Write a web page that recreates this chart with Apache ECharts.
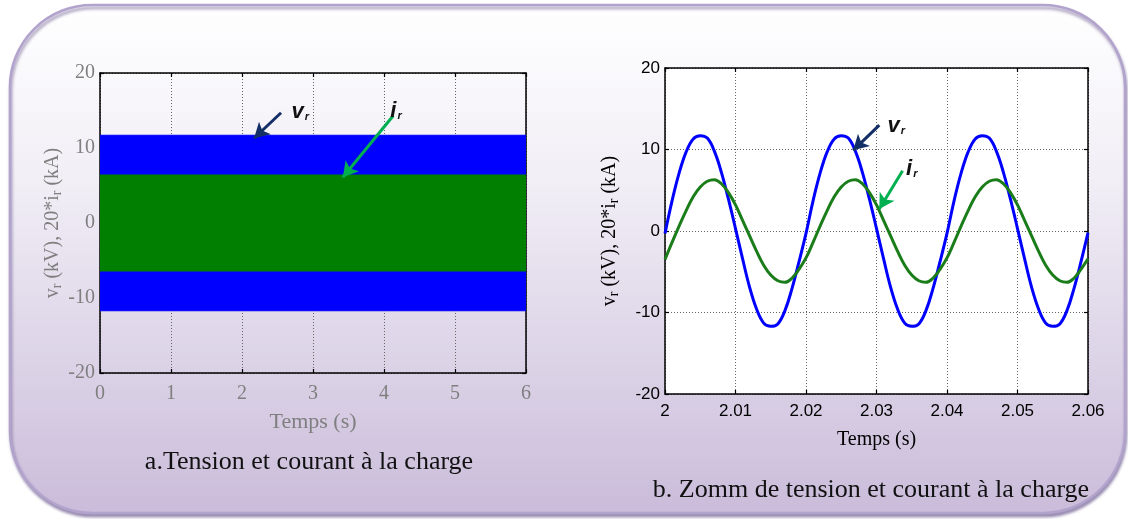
<!DOCTYPE html>
<html>
<head>
<meta charset="utf-8">
<script src="https://cdn.jsdelivr.net/npm/echarts@6/dist/echarts.min.js"></script>
<style>html,body{margin:0;padding:0;background:#fff;}#c{width:1128px;height:519px;}</style>
</head>
<body>
<div id="c"></div>
<script>
// ---- data ----
// a. full run: envelope of the dense 50 Hz waveforms over 0..6 s
var tA = [0, 6];
var vrUpperA = [11.7, 11.7];
var vrLowerA = [-11.7, -11.7];
var irUpperA = [6.4, 6.4];
var irLowerA = [-6.4, -6.4];
var xTicksA = [0, 1, 2, 3, 4, 5, 6];
var yTicks = [-20, -10, 0, 10, 20];

// b. zoom 2.00 .. 2.06 s, one sample per ms
var tB = [2.000,2.001,2.002,2.003,2.004,2.005,2.006,2.007,2.008,2.009,
          2.010,2.011,2.012,2.013,2.014,2.015,2.016,2.017,2.018,2.019,
          2.020,2.021,2.022,2.023,2.024,2.025,2.026,2.027,2.028,2.029,
          2.030,2.031,2.032,2.033,2.034,2.035,2.036,2.037,2.038,2.039,
          2.040,2.041,2.042,2.043,2.044,2.045,2.046,2.047,2.048,2.049,
          2.050,2.051,2.052,2.053,2.054,2.055,2.056,2.057,2.058,2.059,2.060];
var vrB = [-0.3,3.7,7.1,9.7,11.3,11.7,11.4,9.8,7.2,3.9,
           0.3,-3.4,-6.9,-9.6,-11.3,-11.7,-11.4,-9.8,-7.1,-3.8,
           -0.3,3.7,7.1,9.7,11.3,11.7,11.4,9.8,7.2,3.9,
           0.3,-3.4,-6.9,-9.6,-11.3,-11.7,-11.4,-9.8,-7.1,-3.8,
           -0.3,3.7,7.1,9.7,11.3,11.7,11.4,9.8,7.2,3.9,
           0.3,-3.4,-6.9,-9.6,-11.3,-11.7,-11.4,-9.8,-7.1,-3.8,-0.2];
var irB = [-3.5,-1.4,0.6,2.5,4.2,5.4,6.1,6.3,5.8,4.7,
           3.2,1.3,-0.6,-2.5,-4.2,-5.4,-6.1,-6.3,-5.8,-4.7,
           -3.3,-1.4,0.6,2.5,4.2,5.4,6.1,6.3,5.8,4.7,
           3.2,1.3,-0.6,-2.5,-4.2,-5.4,-6.1,-6.3,-5.8,-4.7,
           -3.3,-1.4,0.6,2.5,4.2,5.4,6.1,6.3,5.8,4.7,
           3.2,1.3,-0.6,-2.5,-4.2,-5.4,-6.1,-6.3,-5.8,-4.7,-3.4];
var xTicksB = ['2','2.01','2.02','2.03','2.04','2.05','2.06'];

// annotation anchors (data coordinates)
var annA = {vrText:[2.82,14.8], vrArrow:[[2.55,14.7],[2.17,11.3]], irText:[4.17,15.0], irArrow:[[4.13,14.3],[3.42,6.1]]};
var annB = {vrText:[2.0328,12.9], vrArrow:[[2.0304,13.0],[2.0267,9.9]], irText:[2.0350,7.6], irArrow:[[2.0337,7.4],[2.0304,2.7]]};

// ---- chart ----
function pairs(xs, ys){ return xs.map(function(x,i){ return [x, ys[i]]; }); }
var nameRich = function(size,color){
  return {
    n:{fontFamily:'Liberation Serif', fontSize:size, color:color},
    s:{fontFamily:'Liberation Serif', fontSize:Math.round(size*0.7), color:color, padding:[size*0.45,0,0,0]}
  };
};
var yName = '{n|v}{s|r}{n| (kV), 20*i}{s|r}{n| (kA)}';

function annLabel(letter){
  return {
    show:true, position:'inside',
    formatter:'{m|'+letter+'}{s|r}',
    rich:{
      m:{fontFamily:'Liberation Sans', fontStyle:'italic', fontWeight:'bold', fontSize:22, color:'#111'},
      s:{fontFamily:'Liberation Sans', fontStyle:'italic', fontWeight:'bold', fontSize:11, color:'#111', padding:[10,0,0,1]}
    }
  };
}
function arrowLine(a, color){
  return {
    silent:true, symbol:['none','arrow'], symbolSize:[13,15], label:{show:false},
    lineStyle:{color:color, width:3, type:'solid'},
    emphasis:{disabled:true},
    data:[[{coord:a[0]},{coord:a[1]}]], animation:false
  };
}
function textPoints(ann){
  return {
    silent:true, symbol:'circle', symbolSize:0,
    data:[
      {coord:ann.vrText, label:annLabel('v')},
      {coord:ann.irText, label:annLabel('i')}
    ], animation:false
  };
}

var axisLineStyle = {show:true, onZero:false, lineStyle:{color:'#000', width:1.5}};
var tickIn = {show:true, inside:true, length:4, lineStyle:{color:'#000', width:1.2}};
var dotted = {show:true, lineStyle:{color:'#666', type:[1,2], width:1}};

var option = {
  animation:false,
  graphic:[{
    type:'rect', z:-10, silent:true,
    shape:{x:10, y:5, width:1115, height:508, r:82},
    style:{
      fill:new echarts.graphic.LinearGradient(0,0,0,1,[
        {offset:0, color:'#ffffff'},{offset:0.35,color:'#f1eef6'},{offset:1, color:'#cabcda'}]),
      stroke:'#b2a3cd', lineWidth:2.5,
      shadowBlur:3, shadowOffsetX:1, shadowOffsetY:3, shadowColor:'rgba(90,70,130,0.55)'
    }
  },{
    type:'text', z:5, silent:true, x:309, y:462,
    style:{text:'a.Tension et courant à la charge', font:'26px "Liberation Serif"', fill:'#111', textAlign:'center', textVerticalAlign:'middle'}
  },{
    type:'text', z:5, silent:true, x:871, y:490,
    style:{text:'b. Zomm de tension et courant à la charge', font:'26px "Liberation Serif"', fill:'#111', textAlign:'center', textVerticalAlign:'middle'}
  }],
  grid:[
    {left:100, top:73, width:426, height:300, show:false},
    {left:665, top:68, width:423, height:326, show:true, backgroundColor:'#ffffff', borderWidth:0}
  ],
  xAxis:[
    {type:'value', gridIndex:0, min:0, max:6, interval:1, position:'bottom',
     axisLine:axisLineStyle, axisTick:tickIn, splitLine:dotted,
     axisLabel:{fontFamily:'Liberation Serif', color:'#7f7f7f', fontSize:20, margin:11,
       formatter:function(v){ return String(xTicksA[Math.round(v)]); }},
     name:'Temps (s)', nameLocation:'middle', nameGap:38,
     nameTextStyle:{fontFamily:'Liberation Serif', color:'#7f7f7f', fontSize:22}},
    {type:'value', gridIndex:0, min:0, max:6, interval:1, position:'top',
     axisLine:axisLineStyle, axisTick:tickIn, splitLine:{show:false}, axisLabel:{show:false}},
    {type:'value', gridIndex:1, min:2, max:2.06, interval:0.01, position:'bottom',
     axisLine:axisLineStyle, axisTick:tickIn, splitLine:dotted,
     axisLabel:{fontFamily:'Liberation Sans', color:'#000', fontSize:17, margin:9,
       formatter:function(v){ return xTicksB[Math.round((v-2)*100)]; }},
     name:'Temps (s)', nameLocation:'middle', nameGap:36,
     nameTextStyle:{fontFamily:'Liberation Serif', color:'#000', fontSize:20}},
    {type:'value', gridIndex:1, min:2, max:2.06, interval:0.01, position:'top',
     axisLine:axisLineStyle, axisTick:tickIn, splitLine:{show:false}, axisLabel:{show:false}}
  ],
  yAxis:[
    {type:'value', gridIndex:0, min:-20, max:20, interval:10, position:'left',
     axisLine:axisLineStyle, axisTick:tickIn, splitLine:dotted,
     axisLabel:{fontFamily:'Liberation Serif', color:'#7f7f7f', fontSize:20, margin:5},
     name:yName, nameLocation:'middle', nameGap:36,
     nameTextStyle:{rich:nameRich(20,'#7f7f7f')}},
    {type:'value', gridIndex:0, min:-20, max:20, interval:10, position:'right',
     axisLine:axisLineStyle, axisTick:tickIn, splitLine:{show:false}, axisLabel:{show:false}},
    {type:'value', gridIndex:1, min:-20, max:20, interval:10, position:'left',
     axisLine:axisLineStyle, axisTick:tickIn, splitLine:dotted,
     axisLabel:{fontFamily:'Liberation Sans', color:'#000', fontSize:17, margin:5},
     name:yName, nameLocation:'middle', nameGap:44,
     nameTextStyle:{rich:nameRich(20,'#000')}},
    {type:'value', gridIndex:1, min:-20, max:20, interval:10, position:'right',
     axisLine:axisLineStyle, axisTick:tickIn, splitLine:{show:false}, axisLabel:{show:false}}
  ],
  series:[
    {type:'line', xAxisIndex:0, yAxisIndex:0, data:pairs(tA, vrUpperA), symbol:'none',
     lineStyle:{color:'#0000ff', width:1}, areaStyle:{color:'#0000ff', opacity:1, origin:0}, z:2},
    {type:'line', xAxisIndex:0, yAxisIndex:0, data:pairs(tA, vrLowerA), symbol:'none',
     lineStyle:{color:'#0000ff', width:1}, areaStyle:{color:'#0000ff', opacity:1, origin:0}, z:2},
    {type:'line', xAxisIndex:0, yAxisIndex:0, data:pairs(tA, irUpperA), symbol:'none',
     lineStyle:{color:'#007f00', width:1}, areaStyle:{color:'#007f00', opacity:1, origin:0}, z:3},
    {type:'line', xAxisIndex:0, yAxisIndex:0, data:pairs(tA, irLowerA), symbol:'none',
     lineStyle:{color:'#007f00', width:1}, areaStyle:{color:'#007f00', opacity:1, origin:0}, z:3,
     markPoint:textPoints(annA)},
    {type:'line', xAxisIndex:0, yAxisIndex:0, data:[], z:6, markLine:arrowLine(annA.vrArrow, '#142f66')},
    {type:'line', xAxisIndex:0, yAxisIndex:0, data:[], z:6, markLine:arrowLine(annA.irArrow, '#00b050')},

    {type:'line', xAxisIndex:2, yAxisIndex:2, data:pairs(tB, vrB), symbol:'none', smooth:0.4,
     lineStyle:{color:'#0000ff', width:3}, z:3},
    {type:'line', xAxisIndex:2, yAxisIndex:2, data:pairs(tB, irB), symbol:'none', smooth:0.4,
     lineStyle:{color:'#1a7d1a', width:3}, z:3, markPoint:textPoints(annB)},
    {type:'line', xAxisIndex:2, yAxisIndex:2, data:[], z:6, markLine:arrowLine(annB.vrArrow, '#142f66')},
    {type:'line', xAxisIndex:2, yAxisIndex:2, data:[], z:6, markLine:arrowLine(annB.irArrow, '#00b050')}
  ]
};
var chart = echarts.init(document.getElementById('c'), null, {renderer:'canvas'});
chart.setOption(option);
</script>
</body>
</html>
